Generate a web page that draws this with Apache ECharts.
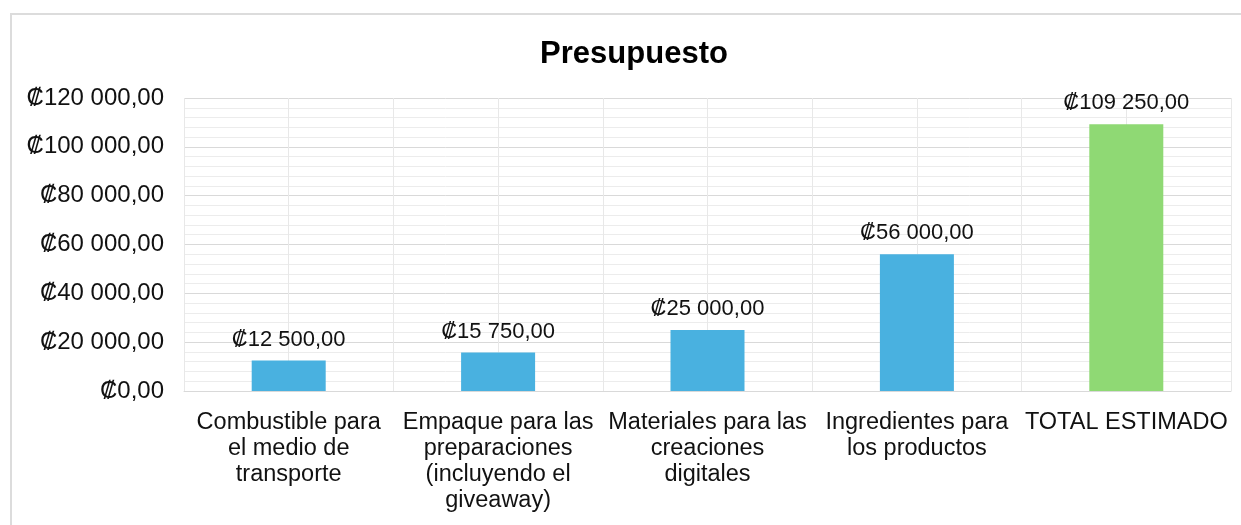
<!DOCTYPE html>
<html>
<head>
<meta charset="utf-8">
<script src="https://cdn.jsdelivr.net/npm/echarts@6/dist/echarts.min.js"></script>
<style>
  html, body { margin: 0; padding: 0; background: #fff; }
  #frame { position: absolute; left: 10px; top: 13px; width: 1300px; height: 600px;
           border-top: 2px solid #dcdcdc; border-left: 2px solid #dcdcdc; }
  #main { position: absolute; left: 0; top: 0; width: 1241px; height: 525px; }
</style>
</head>
<body>
<div id="frame"></div>
<div id="main"></div>
<script>
// datos del gráfico
const categorias = [
  "Combustible para\nel medio de\ntransporte",
  "Empaque para las\npreparaciones\n(incluyendo el\ngiveaway)",
  "Materiales para las\ncreaciones\ndigitales",
  "Ingredientes para\nlos productos",
  "TOTAL ESTIMADO"
]
const montos = [12500, 15750, 25000, 56000, 109250]
const colores = ["#49b1e0", "#49b1e0", "#49b1e0", "#49b1e0", "#8fd974"]

const fuente = "'Liberation Sans', Arial, sans-serif"

// formato ₡12 500,00
function colones(v) {
  const ent = Math.round(v).toString().replace(/\B(?=(\d{3})+(?!\d))/g, " ")
  return "₡" + ent + ",00"
}

const chart = echarts.init(document.getElementById("main"))
chart.setOption({
  animation: false,
  title: {
    text: "Presupuesto",
    left: 629,
    textAlign: "center",
    top: 34,
    textStyle: { fontFamily: fuente, fontSize: 31, fontWeight: "bold", color: "#000" }
  },
  grid: { left: 184, top: 98, right: 10, bottom: 134 },
  xAxis: [{
    type: "category",
    data: categorias,
    axisTick: { show: false },
    axisLine: { lineStyle: { color: "#d9d9d9", width: 1 } },
    splitLine: { show: true, lineStyle: { color: "#d9d9d9" } },
    axisLabel: {
      interval: 0,
      margin: 19,
      lineHeight: 26,
      fontFamily: fuente,
      fontSize: 23.5,
      color: "#111"
    }
  }, {
    // líneas verticales al centro de cada categoría
    type: "value",
    min: 0,
    max: 5,
    interval: 0.5,
    position: "top",
    axisLine: { show: false },
    axisTick: { show: false },
    axisLabel: { show: false },
    splitLine: { show: true, lineStyle: { color: "#e8e8e8" } }
  }],
  yAxis: {
    type: "value",
    min: 0,
    max: 120000,
    interval: 20000,
    axisLine: { show: false },
    axisTick: { show: false },
    axisLabel: {
      formatter: colones,
      margin: 20,
      fontFamily: fuente,
      fontSize: 24,
      color: "#111"
    },
    splitLine: { lineStyle: { color: "#d9d9d9" } },
    minorTick: { show: false, splitNumber: 5 },
    minorSplitLine: { show: true, lineStyle: { color: "#ececec" } }
  },
  series: [{
    type: "bar",
    xAxisIndex: 0,
    barWidth: 74,
    data: montos.map((v, i) => ({ value: v, itemStyle: { color: colores[i] } })),
    label: {
      show: true,
      position: "top",
      distance: 10,
      formatter: p => colones(p.value),
      fontFamily: fuente,
      fontSize: 22,
      color: "#111"
    }
  }]
})
</script>
</body>
</html>
